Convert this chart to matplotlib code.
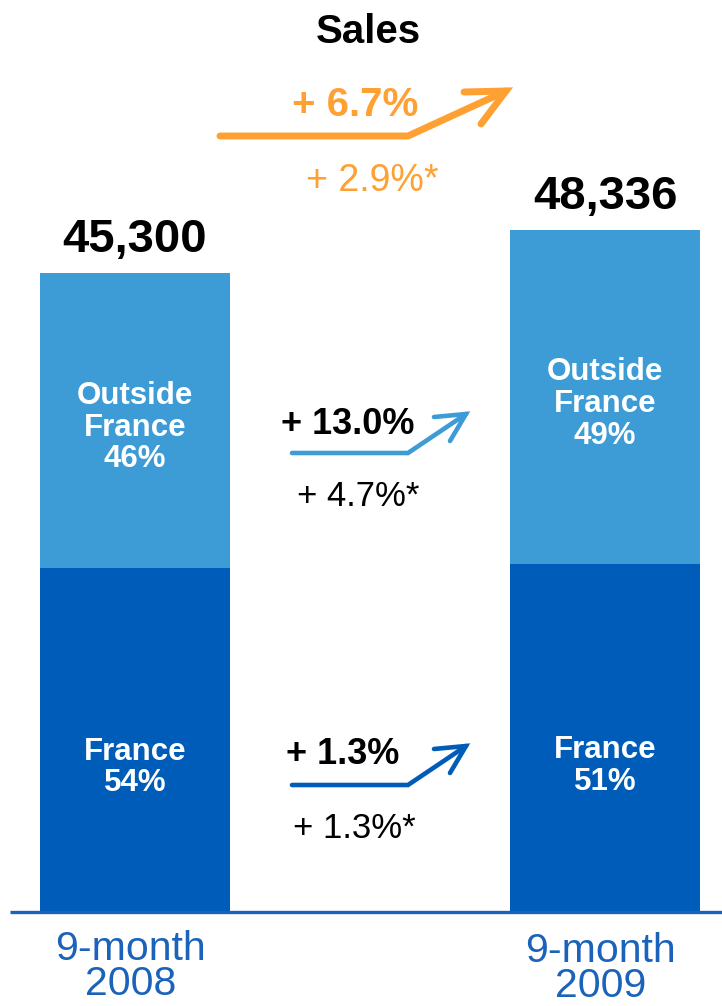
import matplotlib.pyplot as plt

# datos de ventas (millones)
periodos = ['9-month\n2008', '9-month\n2009']
totales = [45300, 48336]
francia = [24385, 24702]
fuera = [20915, 23634]
pct_francia = ['54%', '51%']
pct_fuera = ['46%', '49%']
crec_total = ['+ 6.7%', '+ 2.9%*']
crec_fuera = ['+ 13.0%', '+ 4.7%*']
crec_francia = ['+ 1.3%', '+ 1.3%*']

AZUL = '#005cb9'
CELESTE = '#3d9bd5'
NARANJA = '#ffa033'
AZUL_TXT = '#1b63ba'

plt.rcParams['font.family'] = ['Liberation Sans', 'DejaVu Sans']

W, H = 722, 1006
fig = plt.figure(figsize=(W / 100, H / 100), dpi=100)

# eje de las barras: base en y=912 px
base = 912
ax = fig.add_axes([0, (H - base) / H, 1, base / H])
ytop = totales[0] * base / 639
ax.set_ylim(0, ytop)
ax.set_xlim(-135 / 470, (W - 135) / 470)
ax.axis('off')

x = [0, 1]
ax.bar(x, francia, width=190 / 470, color=AZUL)
ax.bar(x, fuera, width=190 / 470, bottom=francia, color=CELESTE)

for i in x:
    ax.text(i, totales[i] + ytop * 0.012, f'{totales[i]:,}', ha='center', va='bottom',
            fontsize=34, fontweight='bold')
    ax.text(i, francia[i] * 0.42, f'France\n{pct_francia[i]}', ha='center', va='center',
            fontsize=22.5, fontweight='bold', color='white', linespacing=1.08)
    ax.text(i, francia[i] + fuera[i] / 2 - 500, f'Outside\nFrance\n{pct_fuera[i]}', ha='center',
            va='center', fontsize=22.5, fontweight='bold', color='white', linespacing=1.08)
    ax.text(i - 0.01, -ytop * 0.02 - i * 120, periodos[i], ha='center', va='top', fontsize=29.5,
            color=AZUL_TXT, linespacing=0.9)

# capa superior en pixeles para titulo, flechas y textos
ov = fig.add_axes([0, 0, 1, 1])
ov.set_xlim(0, W)
ov.set_ylim(H, 0)
ov.axis('off')

ov.plot([10, W], [base, base], color=AZUL_TXT, lw=2.4, solid_capstyle='butt')
ov.text(368, 32, 'Sales', ha='center', va='center', fontsize=29, fontweight='bold')


def flecha(x0, y0, xq, xt, yt, color, lw, hx, hy):
    ov.plot([x0, xq, xt], [y0, y0, yt], color=color, lw=lw, solid_capstyle='round',
            solid_joinstyle='miter')
    ov.plot([xt - hx[0], xt, xt - hy[0]], [yt - hx[1], yt, yt - hy[1]], color=color, lw=lw,
            solid_capstyle='round', solid_joinstyle='miter')


flecha(220, 136, 408, 506, 91, NARANJA, 5.0, (42, -1), (25, -33))
flecha(292, 453, 408, 466, 414, CELESTE, 3.3, (32, -3), (16, -27))
flecha(292, 785, 408, 466, 746, AZUL, 3.3, (32, -3), (16, -27))

ov.text(355, 105, crec_total[0], ha='center', va='center', fontsize=29, fontweight='bold',
        color=NARANJA)
ov.text(372, 181, crec_total[1], ha='center', va='center', fontsize=27, color=NARANJA)
ov.text(348, 424, crec_fuera[0], ha='center', va='center', fontsize=26, fontweight='bold')
ov.text(358, 496, crec_fuera[1], ha='center', va='center', fontsize=25)
ov.text(343, 755, crec_francia[0], ha='center', va='center', fontsize=26, fontweight='bold')
ov.text(354, 828, crec_francia[1], ha='center', va='center', fontsize=25)

fig.savefig('out.png', dpi=100)
